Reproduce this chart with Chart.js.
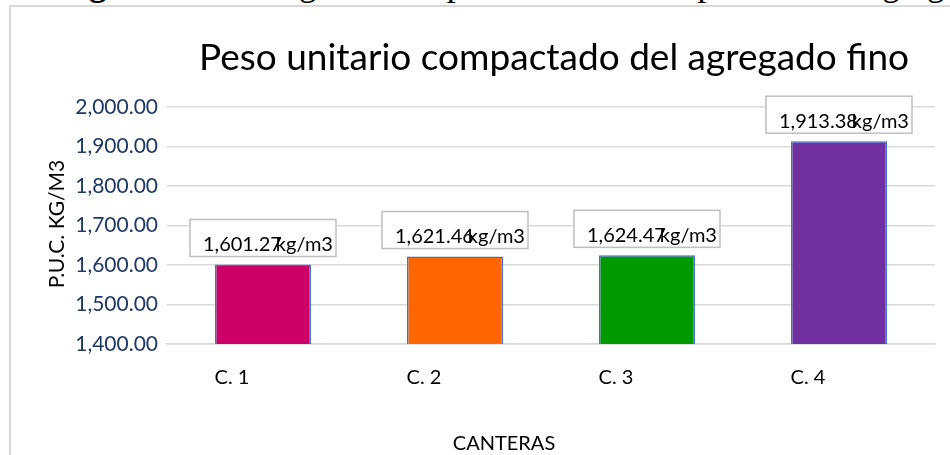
<!DOCTYPE html>
<html>
<head>
<meta charset="utf-8">
<script src="https://cdn.jsdelivr.net/npm/chart.js@4.4.1/dist/chart.umd.min.js"></script>
<style>
  html, body { margin: 0; padding: 0; background: #fff; overflow: hidden; width: 950px; height: 455px; }
  #caption {
    position: absolute; left: 58px; top: -34px; white-space: nowrap;
    font-family: "Liberation Serif", serif; font-size: 35px; line-height: 35px; color: #000;
  }
  #frame {
    position: absolute; left: 9px; top: 5px; width: 960px; height: 470px;
    border-top: 2px solid #d9d9d9; border-left: 2px solid #d9d9d9;
  }
  #chart { position: absolute; left: 10px; top: 6px; }
</style>
</head>
<body>
<div id="caption"><b>Figura 10:</b> Histograma del peso unitario compactado del agregado fino</div>
<div id="frame"></div>
<canvas id="chart" width="950" height="455"></canvas>
<script>
const canteras = ['C. 1', 'C. 2', 'C. 3', 'C. 4'];
const pesoUnitario = [1601.27, 1621.46, 1624.47, 1913.38];
const colores = ['#CC0066', '#FF6600', '#009900', '#7030A0'];
const unidad = 'kg/m3';
const yMin = 1400, yMax = 2000, yStep = 100;

const fmt = v => v.toLocaleString('en-US', { minimumFractionDigits: 2, maximumFractionDigits: 2 });

// titles and the boxed data labels, Excel style
const decoraciones = {
  id: 'decoraciones',
  afterDatasetsDraw(chart) {
    const ctx = chart.ctx;
    ctx.save();
    ctx.fillStyle = '#000';
    ctx.textBaseline = 'middle';
    ctx.textAlign = 'center';
    ctx.font = '37px Lato';
    ctx.fillText('Peso unitario compactado del agregado fino', 544, 52);

    ctx.font = '20px Lato';
    ctx.fillText('CANTERAS', 494, 438);

    ctx.save();
    ctx.translate(47, 218);
    ctx.rotate(-Math.PI / 2);
    ctx.font = '21px Lato';
    ctx.fillText('P.U.C. KG/M3', 0, 0);
    ctx.restore();

    const meta = chart.getDatasetMeta(0);
    meta.data.forEach((bar, i) => {
      const w = 146, h = 37;
      const bottom = bar.y - 8;
      ctx.fillStyle = '#fff';
      ctx.fillRect(bar.x - w / 2, bottom - h, w, h);
      ctx.strokeStyle = '#bfbfbf';
      ctx.lineWidth = 1.5;
      ctx.strokeRect(bar.x - w / 2, bottom - h, w, h);
      ctx.fillStyle = '#000';
      ctx.font = '20px Lato';
      ctx.textAlign = 'left';
      const valor = fmt(pesoUnitario[i]);
      const x0 = bar.x - 60;
      ctx.fillText(valor, x0, bottom - 12);
      const vw = ctx.measureText(valor).width;
      ctx.fillText(unidad, x0 + vw - 6, bottom - 12);
    });
    ctx.restore();
  }
};

new Chart(document.getElementById('chart'), {
  type: 'bar',
  data: {
    labels: canteras,
    datasets: [{
      data: pesoUnitario,
      backgroundColor: colores,
      borderColor: '#4472C4',
      borderWidth: 1.5,
      barPercentage: 0.5,
      categoryPercentage: 1
    }]
  },
  options: {
    responsive: false,
    devicePixelRatio: 1,
    animation: false,
    layout: { padding: { top: 101, right: 25, left: 0, bottom: 0 } },
    plugins: {
      legend: { display: false },
      tooltip: { enabled: false }
    },
    scales: {
      x: {
        grid: { display: false, drawTicks: false },
        border: { display: true, color: '#d9d9d9', width: 1.5 },
        ticks: { color: '#000', font: { family: 'Lato', size: 20 }, padding: 22, labelOffset: -31 },
        afterFit(scale) { scale.height = 117; }
      },
      y: {
        min: yMin,
        max: yMax,
        grid: { color: '#d9d9d9', lineWidth: 1.5, drawTicks: false },
        border: { display: false },
        ticks: {
          stepSize: yStep,
          color: '#1F3864',
          font: { family: 'Lato', size: 21 },
          padding: 9,
          callback: v => fmt(v)
        },
        afterFit(scale) { scale.width = 157; }
      }
    }
  },
  plugins: [decoraciones]
});
</script>
</body>
</html>
